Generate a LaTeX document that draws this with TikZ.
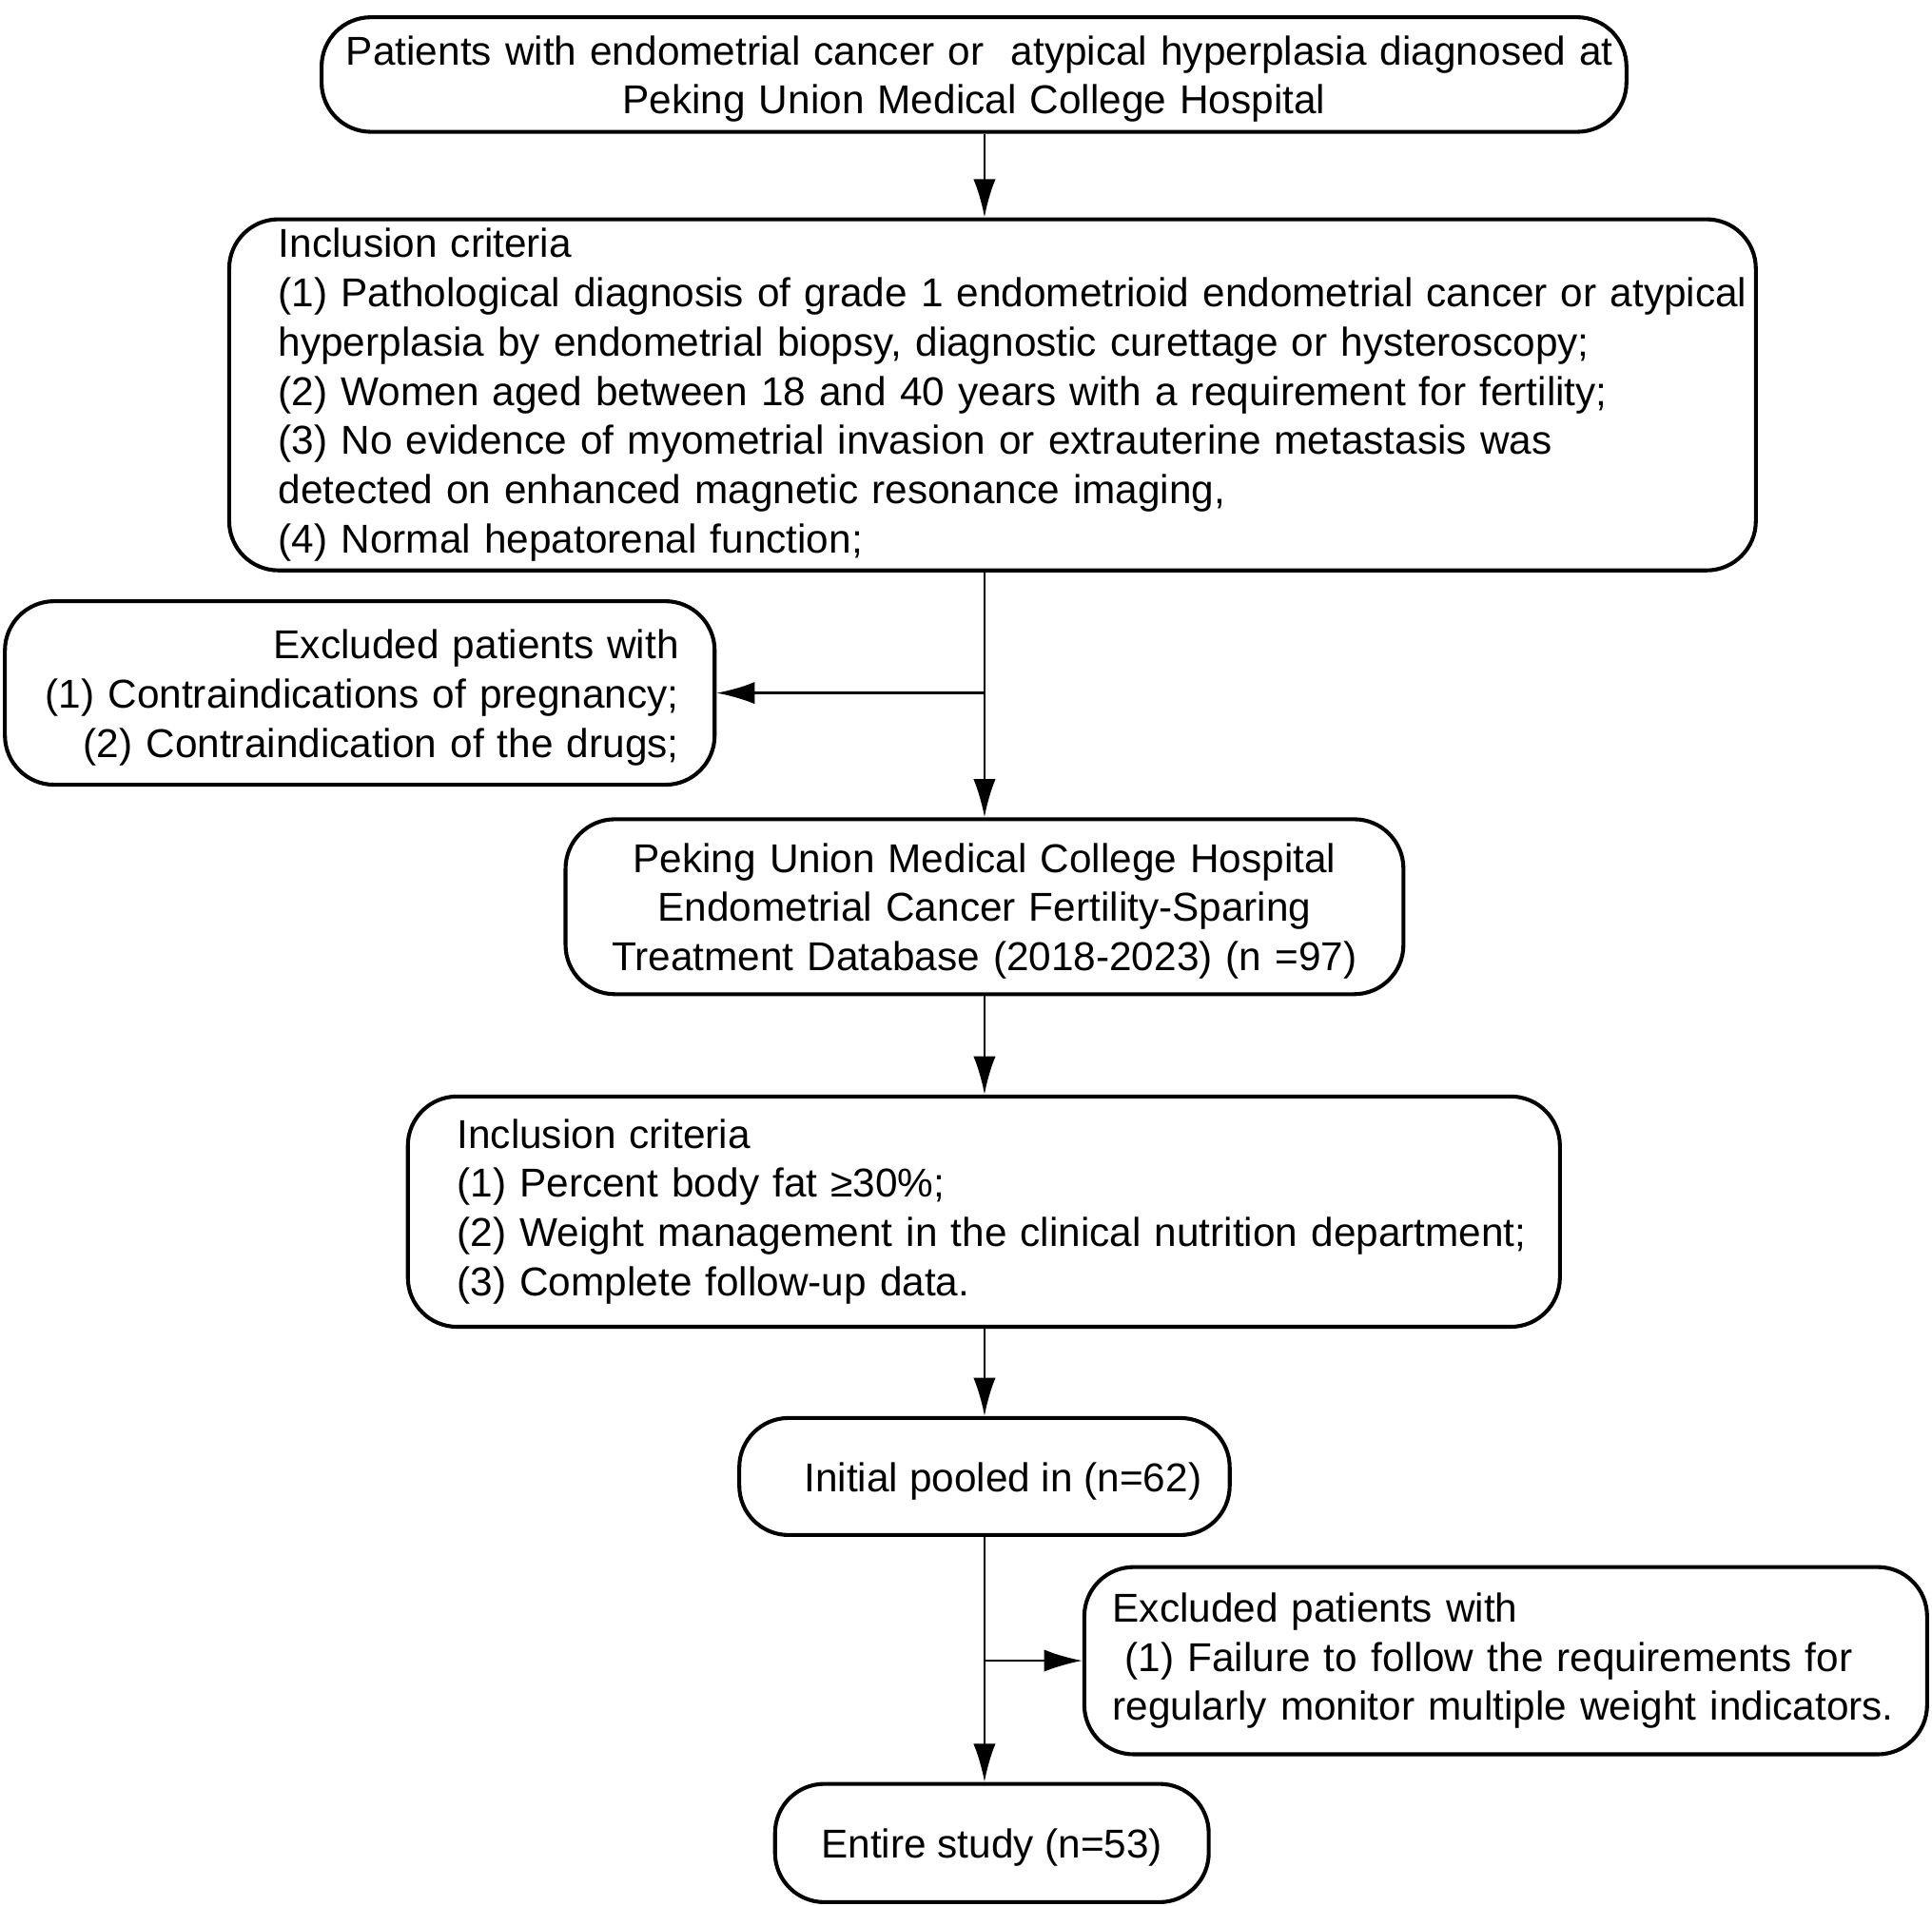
\documentclass[tikz,border=0pt]{standalone}
\usepackage{fontspec}
\setmainfont{Liberation Sans}
\usetikzlibrary{arrows.meta}
\begin{document}
\begin{tikzpicture}[
  box/.style={draw, line width=0.9pt, rounded corners=4mm, inner ysep=0pt, font=\fontsize{9.3}{11.4}\selectfont},
  lower/.style={execute at begin node={\rule{0pt}{8.8pt}}},
  arr/.style={line width=0.6pt, -{Latex[length=3.1mm,width=1.8mm]}}]
\useasboundingbox (0,0) rectangle (15.68,-15.47);
\node[box, lower, minimum height=0.93cm, text width=10.19cm, inner xsep=0.2cm, align=center] (patients) at (7.905,-0.605) {\mbox{Patients with endometrial cancer or~ atypical hyperplasia diagnosed at}\\Peking Union Medical College Hospital};
\node[box, minimum height=2.85cm, text width=11.59cm, inner xsep=0.4cm, align=left] (incl1) at (8.055,-3.205) {Inclusion criteria\\
\mbox{(1) Pathological diagnosis of grade 1 endometrioid endometrial cancer or atypical}\\
hyperplasia by endometrial biopsy, diagnostic curettage or hysteroscopy;\\
(2) Women aged between 18 and 40 years with a requirement for fertility;\\
(3) No evidence of myometrial invasion or extrauterine metastasis was\\
detected on enhanced magnetic resonance imaging,\\
(4) Normal hepatorenal function;};
\node[box, lower, minimum height=1.49cm, text width=5.18cm, inner xsep=0.29cm, align=right] (excl1) at (2.92,-5.625) {Excluded patients with\\\mbox{(1) Contraindications of pregnancy;}\\(2) Contraindication of the drugs;};
\node[box, lower, minimum height=1.42cm, text width=6.4cm, inner xsep=0.2cm, align=center] (db) at (7.99,-7.36) {Peking Union Medical College Hospital\\Endometrial Cancer Fertility-Sparing\\Treatment Database (2018-2023) (n =97)};
\node[box, minimum height=1.87cm, text width=8.55cm, inner xsep=0.4cm, align=left] (incl2) at (7.985,-9.835) {Inclusion criteria\\
(1) Percent body fat ≥30\%;\\
\mbox{(2) Weight management in the clinical nutrition department;}\\
(3) Complete follow-up data.};
\node[box, lower, minimum width=3.98cm, minimum height=0.95cm] (pooled) at (7.99,-11.985) {\hspace*{0.3cm}Initial pooled in (n=62)};
\node[box, minimum height=1.52cm, text width=6.38cm, inner xsep=0.23cm, align=left] (excl2) at (12.22,-13.48) {Excluded patients with\\
\hspace*{0.1cm}(1) Failure to follow the requirements for\\
regularly monitor multiple weight indicators.};
\node[box, lower, minimum width=3.52cm, minimum height=0.96cm] (entire) at (8.05,-14.96) {Entire study (n=53)};
\draw[arr] (patients.south -| db.north) -- (incl1.north -| db.north);
\draw[arr] (incl1.south -| db.north) -- (db.north);
\draw[arr] (excl1.east -| db.north) -- (excl1.east);
\draw[arr] (db.south) -- (db.south |- incl2.north);
\draw[arr] (incl2.south -| pooled.north) -- (pooled.north);
\draw[arr] (pooled.south) -- (pooled.south |- entire.north);
\draw[arr] (pooled.south |- excl2.west) -- (excl2.west);
\end{tikzpicture}
\end{document}
